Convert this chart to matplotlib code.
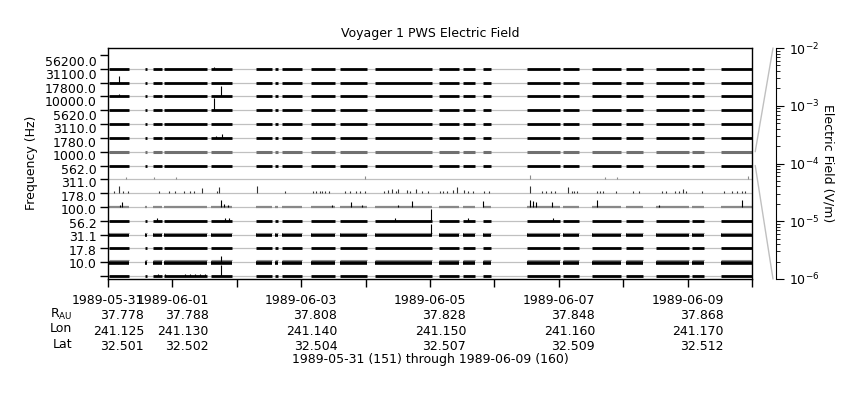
import matplotlib
matplotlib.use("Agg")
import matplotlib.pyplot as plt
import numpy as np
from matplotlib.patches import ConnectionPatch
from matplotlib.ticker import FixedLocator, FixedFormatter, NullLocator

plt.rcParams["font.family"] = ["DejaVu Sans"]
plt.rcParams["font.size"] = 9

# frequency channels, top of the stack to bottom
FREQ_LABELS = ["56200.0", "31100.0", "17800.0", "10000.0", "5620.0", "3110.0",
               "1780.0", "1000.0", "562.0", "311.0", "178.0", "100.0",
               "56.2", "31.1", "17.8", "10.0"]

# intervals with data, in days since 1989-05-31 00:00
SEGMENTS = [(0.02, 0.32), (0.58, 0.61), (0.70, 0.84), (0.87, 1.54), (1.60, 1.93),
            (2.30, 2.55), (2.59, 2.64), (2.70, 3.01), (3.15, 3.53), (3.60, 4.02),
            (4.15, 5.03), (5.14, 5.45), (5.51, 5.70), (5.82, 5.95), (6.51, 7.02),
            (7.07, 7.31), (7.52, 7.97), (8.04, 8.31), (8.51, 9.02), (9.07, 9.26),
            (9.52, 10.0)]

# isolated peaks per channel: (day, electric field V/m)
SPIKES = {
    0: [(1.65, 4e-6)],
    1: [(0.175, 1e-4)],
    2: [(0.175, 7e-6), (1.755, 1.5e-3)],
    3: [(1.65, 3e-3)],
    5: [(1.67, 4e-6), (1.775, 1.5e-5)],
    8: [(0.275, 4e-6), (0.72, 4e-6), (1.056, 4e-6), (3.99, 7e-6), (6.553, 1.5e-5),
        (7.717, 5e-6), (7.908, 5e-6), (9.933, 7e-6)],
    9: [(0.093, 3e-6), (0.175, 1e-4), (0.233, 5e-6), (0.306, 4e-6), (0.792, 4e-6),
        (0.947, 4e-6), (1.040, 4e-6), (1.180, 4e-6), (1.273, 4e-6), (1.335, 4e-6),
        (1.455, 2.8e-5), (1.688, 5e-6), (1.728, 5.5e-5), (2.318, 1e-4), (2.748, 4e-6),
        (3.183, 4e-6), (3.230, 4e-6), (3.292, 4e-6), (3.318, 4e-6), (3.370, 4e-6),
        (3.432, 4e-6), (3.680, 4e-6), (3.758, 4e-6), (3.851, 5e-6), (3.913, 5e-6),
        (3.991, 4e-6), (4.286, 5e-6), (4.352, 7e-6), (4.415, 1.5e-5), (4.467, 5e-6),
        (4.508, 1.5e-5), (4.643, 7e-6), (4.689, 5e-6), (4.778, 2e-5), (4.871, 4e-6),
        (4.969, 4e-6), (5.155, 4e-6), (5.202, 4e-6), (5.259, 5e-6), (5.352, 1e-5),
        (5.415, 5.5e-5), (5.533, 7e-6), (5.595, 4e-6), (5.672, 4e-6), (5.843, 4e-6),
        (5.916, 4e-6), (6.553, 1e-4), (6.734, 4e-6), (6.801, 4e-6), (6.874, 5e-6),
        (6.941, 4e-6), (7.148, 5.5e-5), (7.200, 5e-6), (7.241, 5e-6), (7.287, 4e-6),
        (7.588, 5e-6), (7.640, 5e-6), (7.682, 4e-6), (7.884, 4e-6), (8.147, 4e-6),
        (8.250, 4e-6), (8.598, 5e-6), (8.665, 4e-6), (8.804, 5e-6), (8.871, 4e-6),
        (8.924, 1.5e-5), (8.970, 4e-6), (9.228, 4e-6), (9.570, 4e-6), (9.685, 4e-6),
        (9.762, 5e-6), (9.840, 5e-6), (9.891, 5e-6)],
    10: [(0.186, 5e-6), (0.222, 2.8e-5), (1.755, 1e-4), (1.801, 7e-6), (1.863, 5e-6),
         (3.474, 5e-6), (3.773, 2.8e-5), (3.944, 5e-6), (4.503, 5e-6), (4.716, 5.5e-5),
         (5.828, 5.5e-5), (6.553, 1e-4), (6.599, 5.5e-5), (6.646, 2e-5), (6.890, 2.8e-5),
         (7.598, 1e-4), (8.556, 5e-6), (9.840, 1e-4)],
    11: [(0.756, 5e-6), (1.817, 5e-6), (1.879, 5e-6), (4.457, 5e-6), (5.016, 2e-3),
         (5.590, 5e-6), (6.910, 5e-6)],
    12: [(5.016, 1e-3)],
    14: [(1.75, 5.5e-5)],
    15: [(0.78, 4e-6), (0.89, 4e-6), (1.20, 4e-6), (1.27, 4e-6), (1.35, 4e-6),
         (1.43, 4e-6), (1.51, 4e-6), (1.75, 1.6e-3)],
}

# bottom axis: day ticks with ephemeris
TICK_DATES = ["1989-05-31", "1989-06-01", "", "1989-06-03", "", "1989-06-05", "",
              "1989-06-07", "", "1989-06-09", ""]
R_AU = ["37.778", "37.788", "", "37.808", "", "37.828", "", "37.848", "", "37.868", ""]
LON = ["241.125", "241.130", "", "241.140", "", "241.150", "", "241.160", "", "241.170", ""]
LAT = ["32.501", "32.502", "", "32.504", "", "32.507", "", "32.509", "", "32.512", ""]

# how each channel's data band is drawn
BAND_STYLE = ["black"] * 6 + ["gray", "black", None, None, "lightband", "black",
                              "mixed", "black", "mixed", "black"]

W, H = 860, 400
px = 1.0 / 13.81  # one pixel in row units

fig = plt.figure(figsize=(W / 100, H / 100), dpi=100)
ax = fig.add_axes([108 / W, 121 / H, 644 / W, 231 / H])

starts = [s for s, e in SEGMENTS]
ends = [e for s, e in SEGMENTS]
for k in range(len(FREQ_LABELS)):
    base = k + 1
    ax.axhline(base, color="#c0c0c0", lw=0.9, zorder=1)
    style = BAND_STYLE[k]
    if style == "black":
        ax.hlines([base] * len(starts), starts, ends, color="black", lw=2.0,
                  capstyle="butt", zorder=2)
    elif style == "gray":
        ax.hlines([base] * len(starts), starts, ends, color="#707070", lw=2.2,
                  capstyle="butt", zorder=2)
    elif style == "lightband":
        ax.hlines([base] * len(starts), starts, ends, color="#888888", lw=1.6,
                  capstyle="butt", zorder=2)
    elif style == "mixed":
        ax.hlines([base + 0.4 * px] * len(starts), starts, ends, color="black", lw=2.6,
                  capstyle="butt", zorder=2)
        ax.hlines([base - 2.0 * px] * len(starts), starts, ends, color="#8a8a8a", lw=0.8,
                  capstyle="butt", zorder=3)
    spikes = SPIKES.get(k, [])
    if spikes:
        t = [s[0] for s in spikes]
        h = [(np.log10(s[1]) + 6) / 4 for s in spikes]
        color = "#8a8a8a" if k == 8 else ("#333333" if k == 9 else "black")
        ax.vlines(t, [base] * len(t), [base - hh for hh in h], color=color, lw=0.8,
                  zorder=4)

ax.set_xlim(0, 10)
ax.set_ylim(16.22, -0.51)

# y axis: plain ticks at band edges, labels slightly below
ax.yaxis.set_major_locator(FixedLocator(range(17)))
ax.yaxis.set_major_formatter(FixedFormatter([""] * 17))
label_pos = [k + 0.40 - 0.022 * k for k in range(len(FREQ_LABELS))]
ax.yaxis.set_minor_locator(FixedLocator(label_pos))
ax.yaxis.set_minor_formatter(FixedFormatter(FREQ_LABELS))
ax.tick_params(axis="y", which="major", length=6, direction="out", width=1)
ax.tick_params(axis="y", which="minor", length=0, pad=8, labelsize=9)

labels = []
for d, r, lo, la in zip(TICK_DATES, R_AU, LON, LAT):
    labels.append(f"{d}\n{r}\n{lo}\n{la}" if d else "")
ax.set_xticks(range(11))
ax.set_xticklabels(labels, linespacing=1.22)
ax.xaxis.set_minor_locator(NullLocator())
ax.tick_params(axis="x", length=6, direction="out", width=1, pad=5, labelsize=9)
for t in ax.get_xticklabels():
    t.set_multialignment("right")

for sp in ax.spines.values():
    sp.set_linewidth(1.0)

# electric field scale
ax2 = fig.add_axes([770 / W, 121 / H, 6 / W, 231 / H])
ax2.set_yscale("log")
ax2.set_ylim(1e-6, 1e-2)
ax2.patch.set_visible(False)
for name in ["left", "top", "bottom"]:
    ax2.spines[name].set_visible(False)
ax2.set_xticks([])
ax2.yaxis.set_ticks_position("right")
ax2.tick_params(axis="y", which="major", length=6, direction="out", labelsize=9)
ax2.tick_params(axis="y", which="minor", length=3, direction="out")

for y_data, y_axes in [(7, 1.0), (8, 0.0)]:
    con = ConnectionPatch(xyA=(1.005, y_data), coordsA=ax.get_yaxis_transform(),
                          xyB=(0.5, y_axes), coordsB=ax2.transAxes,
                          color="#c0c0c0", lw=1.0)
    fig.add_artist(con)

fig.text(430 / W, 1 - 34 / H, "Voyager 1 PWS Electric Field", ha="center", va="center")
fig.text(32 / W, 1 - 163 / H, "Frequency (Hz)", rotation=90, ha="center", va="center")
fig.text(828 / W, 1 - 163 / H, "Electric Field (V/m)", rotation=270, ha="center", va="center")
fig.text(72 / W, 1 - 314 / H, r"R$_{\mathrm{AU}}$", ha="right", va="center")
fig.text(72 / W, 1 - 329 / H, "Lon", ha="right", va="center")
fig.text(72 / W, 1 - 344 / H, "Lat", ha="right", va="center")
fig.text(430 / W, 1 - 360 / H, "1989-05-31 (151) through 1989-06-09 (160)",
         ha="center", va="center")

fig.savefig("out.png", dpi=100)
